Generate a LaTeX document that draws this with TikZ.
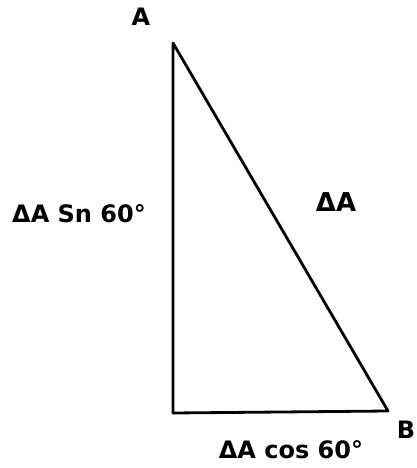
\documentclass[tikz,border=0pt]{standalone}
\usepackage{fontspec}
\setmainfont{DejaVu Sans}
\begin{document}
\begin{tikzpicture}[x=1pt,y=-1pt,
  edge/.style={line width=2.8pt,line join=round,line cap=round},
  lbl/.style={font=\fontsize{24}{26}\selectfont\bfseries,inner sep=0pt}]
\useasboundingbox (0,0) rectangle (417,468);
\coordinate (A) at (173,43);
\coordinate (C) at (173,413);
\coordinate (B) at (388,411);
\draw[edge] (A) -- (C) -- (B) -- cycle;
\node[lbl] (la) at (141,17) {A};
\node[lbl] (lb) at (406,430) {B};
\node[lbl,font=\fontsize{26}{28}\selectfont\bfseries] (hyp) at (336,202) {ΔA};
\node[lbl] (vert) at (79,214) {ΔA Sn 60°};
\node[lbl] (horiz) at (291,450) {ΔA cos 60°};
\end{tikzpicture}
\end{document}
